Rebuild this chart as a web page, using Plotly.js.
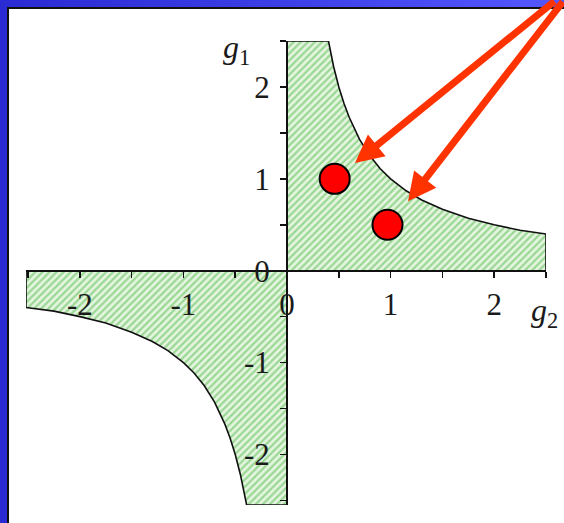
<!DOCTYPE html>
<html>
<head>
<meta charset="utf-8">
<script src="https://cdn.plot.ly/plotly-3.0.1.min.js"></script>
<style>
  html, body { margin: 0; padding: 0; }
  body {
    width: 564px; height: 523px; overflow: hidden; position: relative;
    background: linear-gradient(90deg, #2a2bd2 0%, #3c3ee6 50%, #5557ff 100%);
  }
  #frame {
    position: absolute; left: 7px; top: 7px; right: -4px; bottom: -4px;
    background: #ffffff; border-left: 2px solid #111; border-top: 2px solid #111;
  }
  #chart { position: absolute; left: 0; top: 0; width: 564px; height: 523px; }
</style>
</head>
<body>
<div id="frame"></div>
<div id="chart"></div>
<script>
// Boundary g1 = 1/g2 of the stable region, first quadrant (g2, g1)
const upperG2 = [0.0, 0.0, 0.40, 0.45, 0.50, 0.55, 0.60, 0.70, 0.80, 0.90, 1.00, 1.15, 1.30, 1.50, 1.75, 2.00, 2.25, 2.50, 2.50];
const upperG1 = [0.0, 2.50, 2.50, 2.22, 2.00, 1.82, 1.67, 1.43, 1.25, 1.11, 1.00, 0.87, 0.77, 0.67, 0.57, 0.50, 0.44, 0.40, 0.0];
// Third quadrant part of the region
const lowerG2 = [0.0, -2.52, -2.52, -2.25, -2.00, -1.75, -1.50, -1.30, -1.15, -1.00, -0.90, -0.80, -0.70, -0.60, -0.55, -0.50, -0.45, -0.39, 0.0];
const lowerG1 = [0.0, 0.0, -0.40, -0.44, -0.50, -0.57, -0.67, -0.77, -0.87, -1.00, -1.11, -1.25, -1.43, -1.67, -1.82, -2.00, -2.22, -2.55, -2.55];
// Two operating points inside the region
const pointG2 = [0.46, 0.97];
const pointG1 = [1.00, 0.50];
// Tick positions and labels
const tickVals = [-2.5, -2, -1.5, -1, -0.5, 0, 0.5, 1, 1.5, 2, 2.5];
const tickText = ['', '-2', '', '-1', '', '0', '', '1', '', '2', ''];

const serif = 'Liberation Serif, Times New Roman, serif';
const hatch = { shape: '/', bgcolor: '#e4f5e0', fgcolor: '#9bd794', size: 5, solidity: 0.45 };

const region = (x, y) => ({
  x: x, y: y, type: 'scatter', mode: 'lines', fill: 'toself',
  fillcolor: '#c4eabd', fillpattern: hatch,
  line: { color: '#111', width: 1.6 }, hoverinfo: 'skip', showlegend: false
});

const data = [
  region(upperG2, upperG1),
  region(lowerG2, lowerG1),
  {
    x: pointG2, y: pointG1, type: 'scatter', mode: 'markers', cliponaxis: false,
    marker: { size: 30, color: '#ff0000', line: { color: '#000', width: 2 } },
    showlegend: false
  }
];

const axisCommon = {
  showgrid: false, zeroline: false, showline: true, linecolor: '#111', linewidth: 2,
  ticks: 'outside', ticklen: 6, tickwidth: 1.5, tickcolor: '#111',
  tickmode: 'array', tickvals: tickVals, ticktext: tickText,
  tickfont: { family: serif, size: 31, color: '#1a1a1a' },
  anchor: 'free', fixedrange: true
};

const arrowCommon = {
  text: '', showarrow: true, arrowhead: 2, arrowsize: 0.8, arrowwidth: 7,
  arrowcolor: '#ff3300', standoff: 0, xref: 'x', yref: 'y', axref: 'pixel', ayref: 'pixel'
};

const layout = {
  width: 564, height: 523,
  margin: { l: 26, r: 18, t: 41, b: 18 },
  paper_bgcolor: 'rgba(0,0,0,0)', plot_bgcolor: 'rgba(0,0,0,0)',
  xaxis: Object.assign({}, axisCommon, { range: [-2.52, 2.5], position: 0.505, ticklabelstandoff: 0 }),
  yaxis: Object.assign({}, axisCommon, { range: [-2.55, 2.5], position: 0.502, ticklabelstandoff: 4 }),
  annotations: [
    Object.assign({}, arrowCommon, { x: 0.656, y: 1.171, ax: 201, ay: -167 }),
    Object.assign({}, arrowCommon, { x: 1.168, y: 0.756, ax: 166, ay: -201 }),
    { text: '<i>g</i><sub>1</sub>', x: 0.404, y: 1.03, xref: 'paper', yref: 'paper', showarrow: false,
      font: { family: serif, size: 32, color: '#1a1a1a' } },
    { text: '<i>g</i><sub>2</sub>', x: 2.49, y: -0.46, xref: 'x', yref: 'y', showarrow: false,
      font: { family: serif, size: 32, color: '#1a1a1a' } }
  ]
};

Plotly.newPlot('chart', data, layout, { staticPlot: true, displayModeBar: false });
</script>
</body>
</html>
